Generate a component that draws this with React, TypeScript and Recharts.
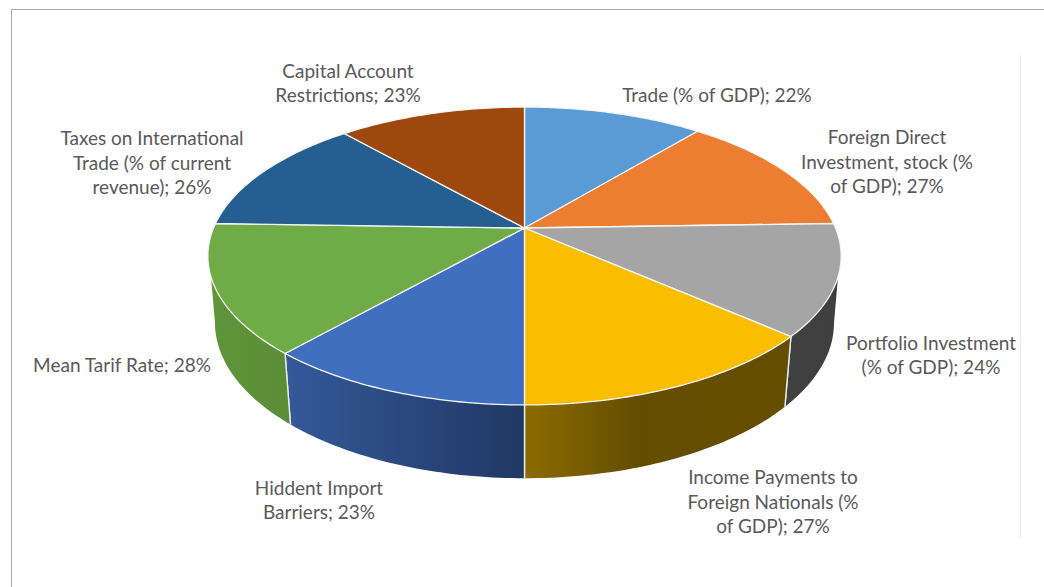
import React from "react";
import { PieChart, Pie } from "recharts";

const categories = [
  "Trade (% of GDP)",
  "Foreign Direct Investment, stock (% of GDP)",
  "Portfolio Investment (% of GDP)",
  "Income Payments to Foreign Nationals (% of GDP)",
  "Hiddent Import Barriers",
  "Mean Tarif Rate",
  "Taxes on International Trade (% of current revenue)",
  "Capital Account Restrictions",
];
const values = [22, 27, 24, 27, 23, 28, 26, 23];
const topColors = ["#5b9bd5", "#ed7d31", "#a5a5a5", "#fbbd00", "#416fbf", "#6fab46", "#255e91", "#9e480e"];

// Line breaks of each label, as in the picture
const labelLines = [
  ["Trade (% of GDP); 22%"],
  ["Foreign Direct", "Investment, stock (%", "of GDP); 27%"],
  ["Portfolio Investment", "(% of GDP); 24%"],
  ["Income Payments to", "Foreign Nationals (%", "of GDP); 27%"],
  ["Hiddent Import", "Barriers; 23%"],
  ["Mean Tarif Rate; 28%"],
  ["Taxes on International", "Trade (% of current", "revenue); 26%"],
  ["Capital Account", "Restrictions; 23%"],
];
const labelCentres = [
  [717, 95], [887, 162], [931, 355.5], [773, 502], [319, 500.5], [122, 365], [152, 163], [348, 83.5],
];

const W = 1044;
const H = 587;
const CX = 524.5;
const CY = 228;
const RX = 311; // outer radius: horizontal half-width through the pie's centre
const TILT = 143.7;
const K = 0.188; // perspective strength
const BOTTOM_RX = 304;
const BOTTOM_TILT = 150;
const DROP = 65.5;
const TOP_VIS = [108.7, 251.3];
const BOT_VIS = [100.8, 259.2];

const rad = Math.PI / 180;

// theta: degrees clockwise from the top of the pie
const topPt = (theta: number, cx: number, cy: number, r: number) => {
  const u = Math.sin(theta * rad);
  const v = -Math.cos(theta * rad);
  const d = 1 - K * v;
  return [cx + (r * u) / d, cy + (TILT * v) / d];
};
const botPt = (theta: number, cx: number, cy: number, r: number) => {
  const u = Math.sin(theta * rad);
  const v = -Math.cos(theta * rad);
  const d = 1 - K * v;
  return [cx + ((BOTTOM_RX * (r / RX)) * u) / d, cy + DROP + (BOTTOM_TILT * v) / d];
};
const arc = (fn: typeof topPt, a: number, b: number, cx: number, cy: number, r: number) => {
  const pts: number[][] = [];
  const n = Math.max(2, Math.ceil(Math.abs(b - a)));
  for (let i = 0; i <= n; i++) pts.push(fn(a + ((b - a) * i) / n, cx, cy, r));
  return pts;
};
const toPath = (pts: number[][]) =>
  pts.map((p, i) => `${i ? "L" : "M"}${p[0].toFixed(2)} ${p[1].toFixed(2)}`).join(" ");

const wallFills: Record<string, string> = {
  [categories[2]]: "url(#wallGrey)",
  [categories[3]]: "url(#wallYellow)",
  [categories[4]]: "url(#wallBlue)",
  [categories[5]]: "url(#wallGreen)",
};

const PieSlice = (props: any) => {
  const { cx, cy, outerRadius, startAngle, endAngle, fill, name } = props;
  const s = 90 - startAngle;
  const e = 90 - endAngle;
  const top = arc(topPt, s, e, cx, cy, outerRadius);
  const ts = Math.max(s, TOP_VIS[0]);
  const te = Math.min(e, TOP_VIS[1]);
  const bs = Math.max(s, BOT_VIS[0]);
  const be = Math.min(e, BOT_VIS[1]);
  const hasWall = te > ts && be > bs;
  const wall = hasWall
    ? [...arc(topPt, ts, te, cx, cy, outerRadius), ...arc(botPt, bs, be, cx, cy, outerRadius).reverse()]
    : [];
  const seams: number[][][] = [];
  if (hasWall) {
    if (s >= TOP_VIS[0] && s <= TOP_VIS[1]) seams.push([topPt(s, cx, cy, outerRadius), botPt(s, cx, cy, outerRadius)]);
    if (e >= TOP_VIS[0] && e <= TOP_VIS[1]) seams.push([topPt(e, cx, cy, outerRadius), botPt(e, cx, cy, outerRadius)]);
  }
  return (
    <g>
      {hasWall && <path d={toPath(wall) + " Z"} fill={wallFills[name] ?? fill} stroke="none" />}
      {seams.map((seg, i) => (
        <path key={i} d={toPath(seg)} stroke="#e9ecef" strokeWidth={1.4} fill="none" />
      ))}
      <path
        d={`M${cx} ${cy} ` + toPath(top).replace(/^M/, "L") + " Z"}
        fill={fill}
        stroke="#f4f6f4"
        strokeWidth={1.3}
        strokeLinejoin="round"
      />
    </g>
  );
};

const renderLabel = (props: any) => {
  const i = props.index;
  const lines = labelLines[i];
  const [x, yc] = labelCentres[i];
  const lh = 24.6;
  return (
    <text
      key={i}
      x={x}
      textAnchor="middle"
      fontFamily="Lato, 'Open Sans', sans-serif"
      fontSize={19}
      fill="#595959"
    >
      {lines.map((l, j) => (
        <tspan key={j} x={x} y={yc + (j - (lines.length - 1) / 2) * lh} dy="0.35em">
          {l}
        </tspan>
      ))}
    </text>
  );
};

const data = categories.map((name, i) => ({ name, value: values[i], fill: topColors[i] }));

export default function App() {
  return (
    <div style={{ position: "absolute", left: 0, top: 0, width: W, height: H, overflow: "hidden", background: "#fff" }}>
      <div style={{ position: "absolute", left: 11, top: 9, right: 0, height: 0, borderTop: "1.5px solid #a8a8a8" }} />
      <div style={{ position: "absolute", left: 11, top: 9, bottom: 0, width: 0, borderLeft: "1.5px solid #a8a8a8" }} />
      <div style={{ position: "absolute", left: 1020, top: 55, height: 483, width: 0, borderLeft: "1px solid #ececec" }} />
      <div style={{ position: "absolute", left: 0, top: 0 }}>
        <PieChart width={W} height={H} margin={{ top: 0, right: 0, bottom: 0, left: 0 }}>
          <defs>
            <linearGradient id="wallGrey" gradientUnits="userSpaceOnUse" x1="785" y1="0" x2="840" y2="0">
              <stop offset="0" stopColor="#414141" />
              <stop offset="1" stopColor="#3f3f3f" />
            </linearGradient>
            <linearGradient id="wallYellow" gradientUnits="userSpaceOnUse" x1="524" y1="0" x2="790" y2="0">
              <stop offset="0" stopColor="#8c6c00" />
              <stop offset="0.42" stopColor="#644d00" />
              <stop offset="1" stopColor="#654e00" />
            </linearGradient>
            <linearGradient id="wallBlue" gradientUnits="userSpaceOnUse" x1="290" y1="0" x2="524" y2="0">
              <stop offset="0" stopColor="#345898" />
              <stop offset="1" stopColor="#203864" />
            </linearGradient>
            <linearGradient id="wallGreen" gradientUnits="userSpaceOnUse" x1="210" y1="0" x2="292" y2="0">
              <stop offset="0" stopColor="#5f963a" />
              <stop offset="1" stopColor="#5b8c36" />
            </linearGradient>
          </defs>
          <Pie
            data={data}
            dataKey="value"
            nameKey="name"
            cx={CX}
            cy={CY}
            innerRadius={0}
            outerRadius={RX}
            startAngle={90}
            endAngle={-270}
            paddingAngle={0}
            stroke="none"
            isAnimationActive={false}
            shape={PieSlice}
            label={renderLabel}
            labelLine={false}
          />
        </PieChart>
      </div>
    </div>
  );
}
